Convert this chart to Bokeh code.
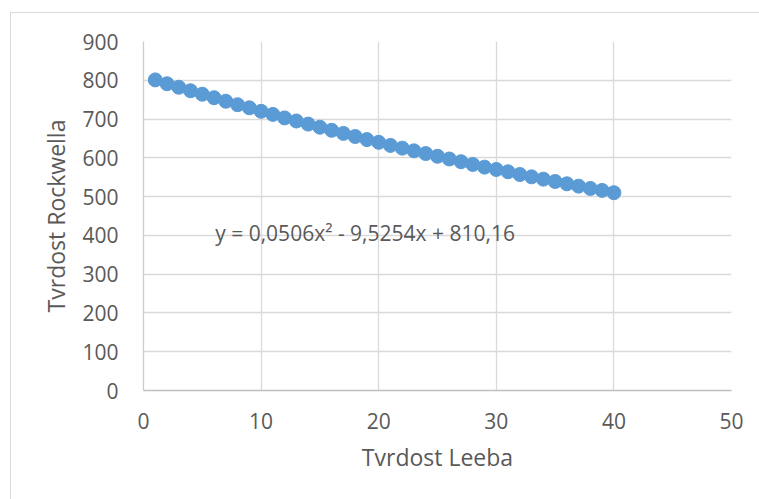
from bokeh.plotting import figure
from bokeh.models import Range1d, FixedTicker, Label
from bokeh.embed import file_html
from bokeh.resources import INLINE

# Data
leeb = [1, 2, 3, 4, 5, 6, 7, 8, 9, 10, 11, 12, 13, 14, 15, 16, 17, 18, 19, 20,
        21, 22, 23, 24, 25, 26, 27, 28, 29, 30, 31, 32, 33, 34, 35, 36, 37, 38, 39, 40]
rockwell = [801, 791, 782, 773, 764, 755, 746, 737, 729, 720, 712, 703, 695, 687, 679,
            671, 663, 655, 647, 640, 632, 625, 618, 611, 604, 597, 590, 583, 576, 570,
            564, 557, 551, 545, 539, 533, 527, 521, 516, 510]
x_ticks = [0, 10, 20, 30, 40, 50]
y_ticks = [0, 100, 200, 300, 400, 500, 600, 700, 800, 900]
equation = "y = 0,0506x\u00b2 - 9,5254x + 810,16"
x_title = "Tvrdost Leeba"
y_title = "Tvrdost Rockwella"

FONT = "Open Sans"
TXT = "#595959"

p = figure(width=749, height=487, output_backend="svg", toolbar_location=None,
           x_range=Range1d(0, 50), y_range=Range1d(0, 900),
           min_border_left=132, min_border_top=28, min_border_right=29,
           min_border_bottom=110)
p.margin = (12, 0, 0, 10)
p.styles = {"border-left": "1px solid #d9d9d9", "border-top": "1px solid #d9d9d9"}
p.outline_line_color = None
p.background_fill_color = "white"
p.border_fill_color = "white"

p.xaxis.ticker = FixedTicker(ticks=x_ticks)
p.yaxis.ticker = FixedTicker(ticks=y_ticks)
p.xgrid.ticker = FixedTicker(ticks=x_ticks)
p.ygrid.ticker = FixedTicker(ticks=y_ticks)
p.grid.grid_line_color = "#d9d9d9"
p.grid.grid_line_width = 1.3

for ax in (p.xaxis[0], p.yaxis[0]):
    ax.major_tick_line_color = None
    ax.minor_tick_line_color = None
    ax.major_label_text_font = FONT
    ax.major_label_text_font_size = "21px"
    ax.major_label_text_color = TXT
    ax.axis_label_text_font = FONT
    ax.axis_label_text_font_size = "23px"
    ax.axis_label_text_color = TXT
    ax.axis_label_text_font_style = "normal"

p.xaxis.axis_line_color = "#bfbfbf"
p.yaxis.axis_line_color = "#cccccc"
p.xaxis.axis_line_width = 1.3
p.yaxis.axis_line_width = 1.3
p.xaxis.major_label_standoff = 16
p.yaxis.major_label_standoff = 19
p.xaxis.axis_label = x_title
p.yaxis.axis_label = y_title
p.xaxis.axis_label_standoff = 9
p.yaxis.axis_label_standoff = 7

p.scatter(leeb, rockwell, size=14, color="#5b9bd5", line_color="#5b9bd5")

p.add_layout(Label(x=6.1, y=406, text=equation, text_font=FONT,
                   text_font_size="21px", text_color=TXT,
                   text_baseline="middle", text_align="left"))

open("out.html", "w").write(file_html(p, INLINE))
